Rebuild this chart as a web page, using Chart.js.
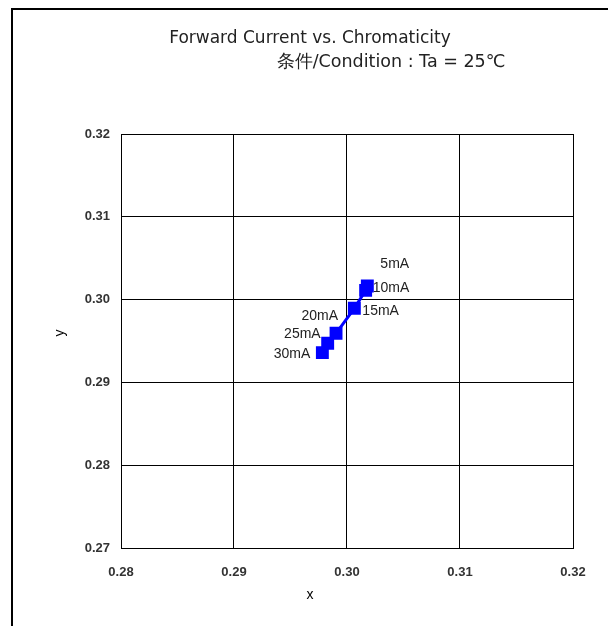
<!DOCTYPE html>
<html><head><meta charset="utf-8">
<script src="https://cdn.jsdelivr.net/npm/chart.js@4"></script>
<style>html,body{margin:0;padding:0;background:#fff}#wrap{width:608px;height:626px;position:relative}</style>
</head><body><div id="wrap"><canvas id="c" width="608" height="626"></canvas></div>
<script>
const currents = ["5mA","10mA","15mA","20mA","25mA","30mA"];
const xValues = [0.3018, 0.30165, 0.30065, 0.29903, 0.29829, 0.29782];
const yValues = [0.30164, 0.30112, 0.29895, 0.29593, 0.29472, 0.29359];
const xTicks = [0.28, 0.29, 0.30, 0.31, 0.32];
const yTicks = [0.27, 0.28, 0.29, 0.30, 0.31, 0.32];
const titleLines = ["Forward Current vs. Chromaticity", "条件/Condition : Ta = 25℃"];
const xTitle = "x", yTitle = "y";

const labelOffsets = [[13,-22,'left'],[7,-2,'left'],[8,3,'left'],[2,-17,'right'],[-7,-9,'right'],[-12,1,'right']];

const decor = {
  id:'decor',
  beforeDraw(chart){
    const ctx = chart.ctx;
    ctx.save();
    ctx.fillStyle='#fff'; ctx.fillRect(0,0,chart.width,chart.height);
    ctx.strokeStyle='#000'; ctx.lineWidth=2;
    ctx.strokeRect(12,9,700,700);
    ctx.fillStyle='#222';
    ctx.textAlign='center'; ctx.textBaseline='middle';
    ctx.font='17px "DejaVu Sans", sans-serif';
    ctx.fillText(titleLines[0], 310, 39);
    ctx.font='17.5px "DejaVu Sans", sans-serif';
    ctx.fillText(titleLines[1], 391, 62);
    ctx.font='14px "Liberation Sans", Arial, sans-serif';
    ctx.fillStyle='#000';
    ctx.fillText(xTitle, 310, 595);
    ctx.translate(60,333); ctx.rotate(-Math.PI/2);
    ctx.fillText(yTitle, 0, 0);
    ctx.restore();
  },
  afterDatasetsDraw(chart){
    const ctx = chart.ctx, xs = chart.scales.x, ys = chart.scales.y;
    ctx.save();
    ctx.font='14px "Liberation Sans", Arial, sans-serif';
    ctx.fillStyle='#222';
    ctx.textBaseline='middle';
    currents.forEach((c,i)=>{
      const px = xs.getPixelForValue(xValues[i]), py = ys.getPixelForValue(yValues[i]);
      const o = labelOffsets[i];
      ctx.textAlign=o[2];
      ctx.fillText(c, px+o[0], py+o[1]);
    });
    ctx.restore();
  }
};

new Chart(document.getElementById('c'), {
  type:'scatter',
  data:{datasets:[{
    data: xValues.map((x,i)=>({x, y:yValues[i]})),
    showLine:true,
    borderColor:'#0000FF', backgroundColor:'#0000FF',
    borderWidth:3, pointStyle:'rect', pointRadius:7, pointHoverRadius:7
  }]},
  options:{
    responsive:false, animation:false, devicePixelRatio:1,
    layout:{padding:{left:0,right:35,top:134,bottom:0}},
    plugins:{legend:{display:false},title:{display:false},tooltip:{enabled:false}},
    scales:{
      x:{type:'linear', min:0.28, max:0.32,
        afterBuildTicks(s){ s.ticks = xTicks.map(v=>({value:v})); },
        afterFit(s){ s.height = 78; },
        grid:{color:'#000', lineWidth:1, drawTicks:false},
        border:{color:'#000', width:1},
        ticks:{padding:17, color:'#333', font:{family:'"Liberation Sans", Arial, sans-serif', size:13, weight:'bold'},
          callback:v=>Number(v).toFixed(2)}
      },
      y:{type:'linear', min:0.27, max:0.32,
        afterBuildTicks(s){ s.ticks = yTicks.map(v=>({value:v})); },
        afterFit(s){ s.width = 121; },
        grid:{color:'#000', lineWidth:1, drawTicks:false},
        border:{color:'#000', width:1},
        ticks:{padding:11, color:'#333', font:{family:'"Liberation Sans", Arial, sans-serif', size:13, weight:'bold'},
          callback:v=>Number(v).toFixed(2)}
      }
    }
  },
  plugins:[decor]
});
</script></body></html>
